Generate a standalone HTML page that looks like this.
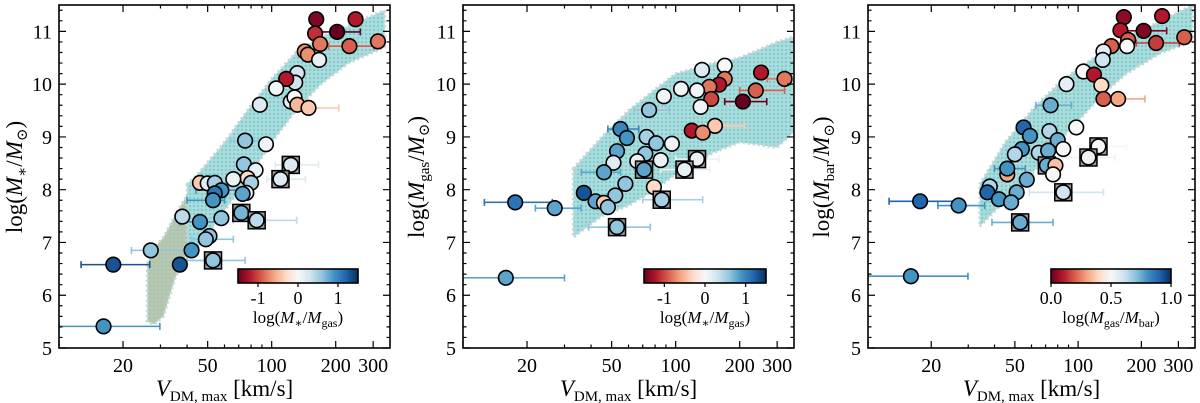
<!DOCTYPE html>
<html><head><meta charset="utf-8">
<style>
html,body{margin:0;padding:0;background:#fff;}
svg{display:block;font-family:"Liberation Serif","DejaVu Serif",serif;}
</style></head>
<body>
<svg id="chart" width="1200" height="403" viewBox="0 0 1200 403" xmlns="http://www.w3.org/2000/svg">
<defs>
<pattern id="dots" width="4" height="4" patternUnits="userSpaceOnUse">
<rect width="4" height="4" fill="#c3d3d3"/>
<circle cx="2" cy="2" r="1.25" fill="#4fe3e3"/>
</pattern>
<pattern id="gdots" width="4" height="4" patternUnits="userSpaceOnUse">
<rect width="4" height="4" fill="#b9c6b7"/>
<circle cx="2" cy="2" r="1.4" fill="#a9c7a4"/>
</pattern>
<linearGradient id="rdbu" x1="0" x2="1" y1="0" y2="0">
<stop offset="0" stop-color="#67001f"/><stop offset="0.1" stop-color="#b2182b"/>
<stop offset="0.2" stop-color="#d6604d"/><stop offset="0.3" stop-color="#f4a582"/>
<stop offset="0.4" stop-color="#fddbc7"/><stop offset="0.5" stop-color="#f7f7f7"/>
<stop offset="0.6" stop-color="#d1e5f0"/><stop offset="0.7" stop-color="#92c5de"/>
<stop offset="0.8" stop-color="#4393c3"/><stop offset="0.9" stop-color="#2166ac"/>
<stop offset="1" stop-color="#053061"/>
</linearGradient>
</defs>
</svg>
<script>
// ---------- Panel 1 data: log(M*) ----------
const p1V = [162,248,160,203,169,316,232,143,148,167,132,129,117,105,123,128,132,149,88,75,94,74,84,123,110,77,80,66,76,73,46,50,54,58,54,53,72,58,85,38,46,51,49,42,27,53,18,37,16.2];
const p1Y = [11.23,11.23,10.96,10.99,10.76,10.81,10.72,10.62,10.56,10.46,10.21,10.03,10.1,9.92,9.67,9.75,9.61,9.55,9.61,8.93,8.86,8.48,8.37,8.47,8.2,8.22,8.13,8.2,7.94,7.92,8.13,8.12,8.13,7.99,7.93,7.8,7.56,7.46,7.42,7.49,7.39,7.12,7.06,6.85,6.85,6.66,6.58,6.58,5.41];
const p1C = [-1.4,-1.2,-1.1,-1.5,-0.8,-0.8,-0.9,-0.7,-0.7,0.1,0.3,0.3,-1.2,0.05,0.1,0.0,-0.5,-0.4,0.2,0.6,0.05,0.6,0.1,0.2,0.2,-0.3,0.5,0.1,0.05,0.8,-0.4,0.2,0.5,0.9,1.1,0.9,0.7,0.6,0.4,0.4,0.9,0.6,0.6,0.9,0.6,0.6,1.3,1.3,0.9];
const p1Sq = [23,24,36,38,45];
const p1ErrIdx = [3,6,17,19,23,24,38,44,45,46,48,40,42,33,35];
const p1ErrLo  = [150,185,130,64,104,95,66,21.9,40,12.7,10,37,42,44,40];
const p1ErrHi  = [261,302,207,88,166,144,131,39.8,75,26.7,29.8,60,66,70,60];
const p1BandV = [40,45,60,80,100,130,170,230,340];
const p1BandLo = [6.8,6.9,7.6,8.3,8.9,9.5,10.0,10.4,10.7];
const p1BandHi = [8.1,8.3,8.9,9.6,10.1,10.6,10.9,11.1,11.4];
const p1GBandV = [26,28,31,35,40,46];
const p1GBandLo = [5.5,5.45,5.6,6.3,6.8,7.2];
const p1GBandHi = [6.6,6.9,7.1,7.5,7.9,8.2];
// ---------- Panel 2 data: log(Mgas) ----------
const p2V = [252,325,170,133,170,160,144,238,126,106,88,147,207,131,75,153,119,134,55,59,73,81,96,53,72,66,85,126,110,51,71,46,58,79,37,52,42,46,48,86,17.6,27,53,15.9];
const p2Y = [10.22,10.1,10.35,10.27,10.1,9.99,9.95,9.88,9.88,9.91,9.77,9.72,9.67,9.57,9.51,9.21,9.12,9.08,9.15,8.98,9.0,8.88,8.87,8.73,8.68,8.54,8.56,8.58,8.38,8.51,8.38,8.33,8.11,8.05,7.94,7.89,7.78,7.75,7.67,7.81,7.76,7.65,7.29,6.33];
const p2C = [-1.2,-0.8,0.0,0.2,-0.8,-1.2,-0.8,-0.9,0.05,0.05,0.05,-1.0,-1.5,0.05,0.6,-0.4,-1.2,-0.7,1.0,0.9,0.5,0.6,0.05,0.8,0.6,0.1,0.1,0.1,0.1,0.2,0.8,0.8,0.6,-0.3,1.3,0.6,0.8,-0.4,0.6,0.5,1.1,0.8,0.6,0.8];
const p2Sq = [27,28,30,39,42];
const p2ErrIdx = [7,12,1,14,15,18,40,41,42,43,39,31,27,28];
const p2ErrLo  = [200,170,270,64,125,48,12.6,21.9,39,10,70,36,100,85];
const p2ErrHi  = [325,268,330,93,211,67,26.3,35.9,76,30,134,55,160,145];
const p2BandV = [33,45,60,80,100,150,200,300,360];
const p2BandLo = [7.1,7.5,7.7,8.0,8.3,8.7,8.9,8.8,9.1];
const p2BandHi = [8.4,9.0,9.5,9.9,10.2,10.4,10.5,10.8,10.9];
// ---------- Panel 3 data: log(Mbar) ----------
const p3V = [165,251,159,205,320,235,173,171,144,132,131,106,119,88,129,132,155,74,98,55,59,73,80,125,112,85,54,50,65,72,71,78,76,46,46,57,38,37,51,42,48,85,17.7,27,53,16];
const p3Y = [11.27,11.29,11.02,11.01,10.89,10.78,10.84,10.72,10.72,10.62,10.46,10.24,10.18,10.0,9.98,9.72,9.72,9.6,9.18,9.18,9.02,9.11,8.94,8.82,8.61,8.77,8.77,8.67,8.7,8.74,8.46,8.46,8.29,8.29,8.4,8.19,8.06,7.95,7.95,7.82,7.76,7.95,7.78,7.7,7.38,6.36];
const p3C = [0.05,0.1,0.1,0.03,0.2,0.15,0.2,0.5,0.2,0.55,0.6,0.5,0.1,0.55,0.4,0.2,0.3,0.75,0.5,0.9,0.8,0.65,0.75,0.5,0.52,0.5,0.8,0.65,0.65,0.75,0.75,0.35,0.5,0.3,0.8,0.75,0.65,0.9,0.75,0.8,0.75,0.6,0.9,0.8,0.75,0.8];
const p3Sq = [23,24,30,41,44];
const p3ErrIdx = [3,5,16,17,42,43,44,45,41,23,24,34];
const p3ErrLo  = [160,189,130,63,12.6,21.5,38.9,10,58.6,100,85,40];
const p3ErrHi  = [264,303,208,93,26.8,35.9,76,29.9,132,170,150,56];
const p3BandV = [34,45,60,80,100,130,170,250,350];
const p3BandLo = [7.3,7.8,8.3,8.9,9.3,9.8,10.2,10.6,10.8];
const p3BandHi = [8.1,8.9,9.5,10.0,10.3,10.6,10.9,11.2,11.5];
// ---------- Axis tick labels ----------
const yTicks = [5,6,7,8,9,10,11];
const xTickLabels = [20,50,100,200,300];
const cbTicksA = [-1,0,1];
const cbTicksB = [0.0,0.5,1.0];

const NS = "http://www.w3.org/2000/svg";
const svg = document.getElementById('chart');
const stops = ["#67001f","#b2182b","#d6604d","#f4a582","#fddbc7","#f7f7f7","#d1e5f0","#92c5de","#4393c3","#2166ac","#053061"];
function hex(h){return [parseInt(h.substr(1,2),16),parseInt(h.substr(3,2),16),parseInt(h.substr(5,2),16)];}
function cmap(t){t=Math.max(0,Math.min(1,t));const f=t*10,i=Math.min(9,Math.floor(f)),u=f-i;const a=hex(stops[i]),b=hex(stops[i+1]);
 return "rgb("+a.map((v,k)=>Math.round(v+(b[k]-v)*u)).join(",")+")";}
function el(tag,attrs,parent){const e=document.createElementNS(NS,tag);for(const k in attrs)e.setAttribute(k,attrs[k]);(parent||svg).appendChild(e);return e;}

const TOP=5,BOT=348,YMIN=5,YMAX=11.5,XMIN=10,XMAX=360;

function drawPanel(cfg){
 const L=cfg.left,R=cfg.right;
 const xs=v=>L+(Math.log10(v)-Math.log10(XMIN))/(Math.log10(XMAX)-Math.log10(XMIN))*(R-L);
 const ys=y=>BOT-(y-YMIN)/(YMAX-YMIN)*(BOT-TOP);
 const g=el('g',{});
 
 
 const clipId='clip'+cfg.name;
 const cp=el('clipPath',{id:clipId},g);el('rect',{x:L,y:TOP,width:R-L,height:BOT-TOP},cp);
 const plot=el('g',{'clip-path':'url(#'+clipId+')'},g);
 function band(V,lo,hi,fill,nm){
  let d='';V.forEach((v,i)=>{d+=(i?'L':'M')+xs(v).toFixed(1)+','+ys(hi[i]).toFixed(1);});
  for(let i=V.length-1;i>=0;i--)d+='L'+xs(V[i]).toFixed(1)+','+ys(lo[i]).toFixed(1);
  const p=el('path',{d:d+'Z',fill:fill,stroke:'#c6d6d6','stroke-width':3,'stroke-dasharray':'2 3','stroke-linejoin':'round'},plot);
  
  
 }
 if(cfg.gband)band(cfg.gband[0],cfg.gband[1],cfg.gband[2],'url(#gdots)','simulation-cloud-lowmass');
 band(cfg.band[0],cfg.band[1],cfg.band[2],'url(#dots)','simulation-cloud');
 const col=i=>cmap((cfg.C[i]-cfg.cmin)/(cfg.cmax-cfg.cmin));
 cfg.errIdx.forEach((idx,k)=>{
  const y=ys(cfg.Y[idx]),x1=xs(cfg.errLo[k]),x2=xs(cfg.errHi[k]);const c=col(idx);
  const e=el('path',{d:`M${x1},${y}H${x2}M${x1},${y-3.5}V${y+3.5}M${x2},${y-3.5}V${y+3.5}`,stroke:c,'stroke-width':1.6,fill:'none'},plot);
  
  
 });
 cfg.V.forEach((v,i)=>{
  const cx=xs(v),cy=ys(cfg.Y[i]);
  if(cfg.sq.includes(i)){
   const s=el('rect',{x:cx-8.5,y:cy-8.5,width:17,height:17,fill:'#999',stroke:'#000','stroke-width':1.5},plot);
   
   
  }
  const c=el('circle',{cx:cx,cy:cy,r:7.3,fill:col(i),stroke:'#000','stroke-width':1.6},plot);
  
  
 });
 const fr=el('rect',{x:L,y:TOP,width:R-L,height:BOT-TOP,fill:'none',stroke:'#000','stroke-width':1.6},g);
 
 
 let td='';
 for(let y=5;y<=11.5001;y+=0.2){const Y=ys(y);const maj=Math.abs(y-Math.round(y))<1e-6;const len=maj?7:3.5;td+=`M${L},${Y}h${len}M${R},${Y}h${-len}`;}
 const xt=[];for(let d=10;d<=100;d*=10)for(let m=1;m<10;m++)xt.push(d*m);
 xt.filter(v=>v>=XMIN&&v<=XMAX).forEach(v=>{const X=xs(v);const maj=(v===10||v===100);const lab=xTickLabels.includes(v);const len=maj?7:(lab?7:3.5);td+=`M${X},${BOT}v${-len}M${X},${TOP}v${len}`;});
 el('path',{d:td,stroke:'#000','stroke-width':1.2,fill:'none'},g);
 yTicks.forEach(t=>{const tx=el('text',{x:L-7,y:ys(t)+7,'text-anchor':'end','font-size':20},g);tx.textContent=t;
  
  });
 xTickLabels.forEach(t=>{const tx=el('text',{x:xs(t),y:372,'text-anchor':'middle','font-size':20},g);tx.textContent=t;
  
  });
 const xtl=el('text',{x:(L+R)/2,y:396,'text-anchor':'middle','font-size':23},g);
 xtl.innerHTML='<tspan font-style="italic">V</tspan><tspan font-size="15" dy="5">DM, max</tspan><tspan dy="-5"> [km/s]</tspan>';
 
 
 const ytl=el('text',{x:0,y:0,'text-anchor':'middle','font-size':23,transform:`translate(${cfg.ylx},177) rotate(-90)`},g);
 ytl.innerHTML=cfg.ylab;
 
 
 const cb=el('g',{},g);
 
 
 const cx0=cfg.cb[0],cx1=cfg.cb[1];
 el('rect',{x:cx0,y:269,width:cx1-cx0,height:14,fill:'url(#rdbu)',stroke:'#000','stroke-width':1.6},cb);
 const cs=v=>cx0+(v-cfg.cmin)/(cfg.cmax-cfg.cmin)*(cx1-cx0);
 let cd='';cfg.cbt.forEach(t=>{cd+=`M${cs(t)},283v4`;});
 el('path',{d:cd,stroke:'#000','stroke-width':1.2},cb);
 cfg.cbt.forEach(t=>{const tx=el('text',{x:cs(t),y:304,'text-anchor':'middle','font-size':18},cb);tx.textContent=(cfg.cmin<0?(t<0?'-'+Math.abs(t):t):t.toFixed(1));
  
  });
 const cl=el('text',{x:(cx0+cx1)/2,y:323,'text-anchor':'middle','font-size':17},cb);
 cl.innerHTML=cfg.cblab;
 
 
}

const lab1='log(<tspan font-style="italic">M</tspan><tspan font-size="15" dy="5">∗</tspan><tspan dy="-5">/</tspan><tspan font-style="italic">M</tspan><tspan font-size="15" dy="5">⊙</tspan><tspan dy="-5">)</tspan>';
const lab2='log(<tspan font-style="italic">M</tspan><tspan font-size="15" dy="5">gas</tspan><tspan dy="-5">/</tspan><tspan font-style="italic">M</tspan><tspan font-size="15" dy="5">⊙</tspan><tspan dy="-5">)</tspan>';
const lab3='log(<tspan font-style="italic">M</tspan><tspan font-size="15" dy="5">bar</tspan><tspan dy="-5">/</tspan><tspan font-style="italic">M</tspan><tspan font-size="15" dy="5">⊙</tspan><tspan dy="-5">)</tspan>';
const cbl1='log(<tspan font-style="italic">M</tspan><tspan font-size="12" dy="4">∗</tspan><tspan dy="-4">/</tspan><tspan font-style="italic">M</tspan><tspan font-size="12" dy="4">gas</tspan><tspan dy="-4">)</tspan>';
const cbl3='log(<tspan font-style="italic">M</tspan><tspan font-size="12" dy="4">gas</tspan><tspan dy="-4">/</tspan><tspan font-style="italic">M</tspan><tspan font-size="12" dy="4">bar</tspan><tspan dy="-4">)</tspan>';

drawPanel({name:'panel-stellar-mass',left:59,right:390,V:p1V,Y:p1Y,C:p1C,sq:p1Sq,errIdx:p1ErrIdx,errLo:p1ErrLo,errHi:p1ErrHi,
 band:[p1BandV,p1BandLo,p1BandHi],gband:[p1GBandV,p1GBandLo,p1GBandHi],cmin:-1.5,cmax:1.5,cbt:cbTicksA,cb:[238,358],cblab:cbl1,ylab:lab1,ylx:22});
drawPanel({name:'panel-gas-mass',left:463,right:794,V:p2V,Y:p2Y,C:p2C,sq:p2Sq,errIdx:p2ErrIdx,errLo:p2ErrLo,errHi:p2ErrHi,
 band:[p2BandV,p2BandLo,p2BandHi],cmin:-1.5,cmax:1.5,cbt:cbTicksA,cb:[644,766],cblab:cbl1,ylab:lab2,ylx:424});
drawPanel({name:'panel-baryonic-mass',left:868,right:1195,V:p3V,Y:p3Y,C:p3C,sq:p3Sq,errIdx:p3ErrIdx,errLo:p3ErrLo,errHi:p3ErrHi,
 band:[p3BandV,p3BandLo,p3BandHi],cmin:0,cmax:1,cbt:cbTicksB,cb:[1051,1171],cblab:cbl3,ylab:lab3,ylx:829});
</script>
</body></html>
